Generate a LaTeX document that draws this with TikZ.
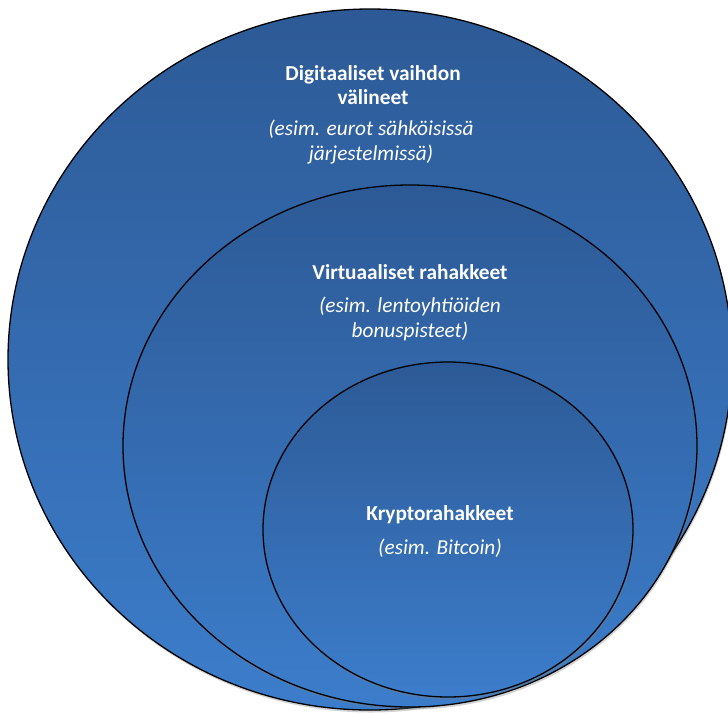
\documentclass[tikz,border=0pt]{standalone}
\usepackage{fontspec}
\setmainfont{Carlito}
\usetikzlibrary{shapes.geometric,shadows}
\definecolor{ringtop}{HTML}{2D5A96}
\definecolor{ringbottom}{HTML}{3C7DCB}

\begin{document}
\begin{tikzpicture}
  [x=1pt,y=-1pt,
   ring/.style={ellipse,draw=black,line width=1.3pt,inner sep=0pt,
     top color=ringtop,bottom color=ringbottom,
     drop shadow={opacity=.35,shadow xshift=1pt,shadow yshift=-2.5pt}},
   heading/.style={text=white,align=center,font=\fontsize{21.3}{24.5}\selectfont\bfseries},
   example/.style={text=white,align=center,font=\fontsize{21.3}{25}\selectfont\itshape}]
  \useasboundingbox (0,0) rectangle (728,713);
  % nested sets
  \node[ring,minimum width=724pt,minimum height=701pt] (digital) at (370,359.5) {};
  \node[ring,minimum width=574pt,minimum height=522pt] (virtual) at (410,446) {};
  \node[ring,minimum width=370pt,minimum height=335pt] (crypto) at (448,529.5) {};
  % labels
  \node[heading] (digitalname) at (373,85) {Digitaaliset vaihdon\\välineet};
  \node[example] (digitalex) at (371,142) {(esim. eurot sähköisissä\\järjestelmissä)};
  \node[heading] (virtualname) at (410,272) {Virtuaaliset rahakkeet};
  \node[example] (virtualex) at (410,319) {(esim. lentoyhtiöiden\\bonuspisteet)};
  \node[heading] (cryptoname) at (440,515) {Kryptorahakkeet};
  \node[example] (cryptoex) at (440,548) {(esim. Bitcoin)};
\end{tikzpicture}
\end{document}
